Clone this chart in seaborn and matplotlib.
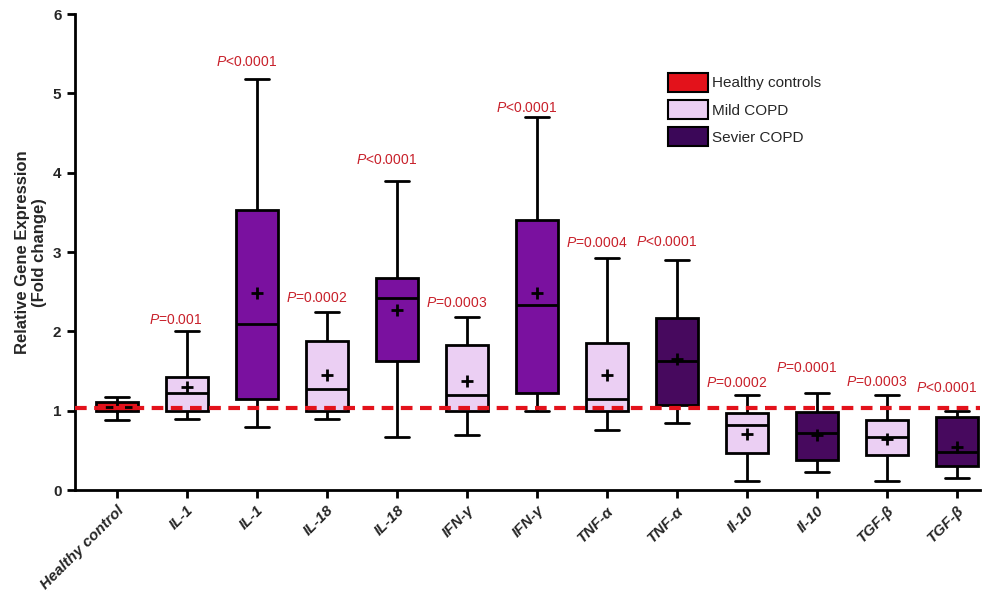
import numpy as np
import pandas as pd
import matplotlib
matplotlib.use("Agg")
import matplotlib.pyplot as plt
import seaborn as sns
from matplotlib.patches import Patch

# box summaries (min, q1, median, q3, max) + mean
labels = ["Healthy control", "IL-1", "IL-1", "IL-18", "IL-18", "IFN-γ", "IFN-γ",
          "TNF-α", "TNF-α", "Il-10", "Il-10", "TGF-β", "TGF-β"]
groups = ["Healthy", "Mild", "Severe1", "Mild", "Severe1", "Mild", "Severe1",
          "Mild", "Severe2", "Mild", "Severe2", "Mild", "Severe2"]
lows = [0.88, 0.90, 0.80, 0.90, 0.67, 0.70, 1.00, 0.76, 0.85, 0.11, 0.23, 0.11, 0.15]
q1s = [1.00, 1.00, 1.15, 1.00, 1.63, 1.00, 1.22, 1.00, 1.07, 0.47, 0.38, 0.44, 0.30]
medians = [1.05, 1.23, 2.10, 1.28, 2.42, 1.20, 2.33, 1.15, 1.63, 0.82, 0.72, 0.67, 0.48]
q3s = [1.11, 1.43, 3.53, 1.88, 2.67, 1.83, 3.40, 1.85, 2.17, 0.97, 0.98, 0.88, 0.92]
highs = [1.18, 2.00, 5.18, 2.25, 3.90, 2.18, 4.70, 2.92, 2.90, 1.20, 1.22, 1.20, 1.00]
means = [1.05, 1.30, 2.48, 1.45, 2.27, 1.37, 2.48, 1.45, 1.65, 0.71, 0.70, 0.65, 0.54]
p_texts = [None, "=0.001", "<0.0001", "=0.0002", "<0.0001", "=0.0003", "<0.0001",
           "=0.0004", "<0.0001", "=0.0002", "=0.0001", "=0.0003", "<0.0001"]
p_heights = [None, 2.14, 5.40, 2.42, 4.16, 2.36, 4.82, 3.11, 3.13, 1.35, 1.54, 1.36, 1.29]
baseline = 1.03

group_colors = {"Healthy": "#E3121B", "Mild": "#EBCFF3",
                "Severe1": "#7A119F", "Severe2": "#47095E"}

rows = []
for i in range(len(labels)):
    for v in (lows[i], q1s[i], medians[i], q3s[i], highs[i]):
        rows.append({"box": str(i), "value": v})
df = pd.DataFrame(rows)
order = [str(i) for i in range(len(labels))]
palette = {str(i): group_colors[g] for i, g in enumerate(groups)}

sns.set_style("white")
plt.rcParams["font.family"] = ["Liberation Sans", "DejaVu Sans"]
plt.rcParams["mathtext.fontset"] = "custom"
plt.rcParams["mathtext.it"] = "Liberation Sans:italic"
plt.rcParams["mathtext.rm"] = "Liberation Sans"

fig = plt.figure(figsize=(9.82, 6.15), dpi=100)
ax = fig.add_axes([0.076, 0.203, 0.922, 0.774])

sns.boxplot(data=df, x="box", y="value", hue="box", order=order, hue_order=order,
            palette=palette, whis=(0, 100), width=0.6, dodge=False, legend=False,
            linewidth=2, linecolor="black", showfliers=False, saturation=1,
            ax=ax)

# shorter caps like the original
for line in ax.lines:
    xd = np.asarray(line.get_xdata(), dtype=float)
    yd = np.asarray(line.get_ydata(), dtype=float)
    if len(xd) == 2 and yd[0] == yd[1] and xd[0] != xd[1]:
        c = xd.mean()
        half = abs(xd[1] - xd[0]) / 2
        if half < 0.29:
            line.set_xdata([c - 0.17, c + 0.17])

ax.scatter(range(len(labels)), means, marker="+", s=70, color="black",
           linewidths=2, zorder=5)

ax.axhline(baseline, color="#E3121B", linestyle=(0, (2.8, 1.8)), lw=3, zorder=6)

for i, (t, h) in enumerate(zip(p_texts, p_heights)):
    if t is None:
        continue
    ax.text(i - 0.15, h, r"$\it{P}$" + t, color="#C8202A", fontsize=10,
            ha="center", va="center", zorder=7)

ax.set_xlim(-0.6, 12.33)
ax.set_ylim(0, 6)
ax.set_yticks(range(0, 7))
ax.set_xticks(range(len(labels)))
ax.set_xticklabels(labels, rotation=45, ha="right", rotation_mode="anchor",
                   fontweight="bold", fontstyle="italic", fontsize=11)
for lab in ax.get_yticklabels():
    lab.set_fontweight("bold")
    lab.set_fontsize(11)
ax.set_xlabel("")
ax.set_ylabel("Relative Gene Expression\n(Fold change)", fontsize=12,
              fontweight="bold")
for s in ["top", "right"]:
    ax.spines[s].set_visible(False)
for s in ["left", "bottom"]:
    ax.spines[s].set_linewidth(2)
    ax.spines[s].set_color("black")
ax.tick_params(axis="both", direction="out", length=6, width=2, color="black",
               left=True, bottom=True)

handles = [Patch(facecolor="#E3121B", edgecolor="black", lw=1.5, label="Healthy controls"),
           Patch(facecolor="#EBCFF3", edgecolor="black", lw=1.5, label="Mild COPD"),
           Patch(facecolor="#3B0758", edgecolor="black", lw=1.5, label="Sevier COPD")]
ax.legend(handles=handles, loc="upper left", bbox_to_anchor=(0.64, 0.905),
          frameon=False, fontsize=11, handlelength=2.6, handleheight=1.5,
          handletextpad=0.3, labelspacing=0.55)

fig.savefig("out.png", dpi=100)
